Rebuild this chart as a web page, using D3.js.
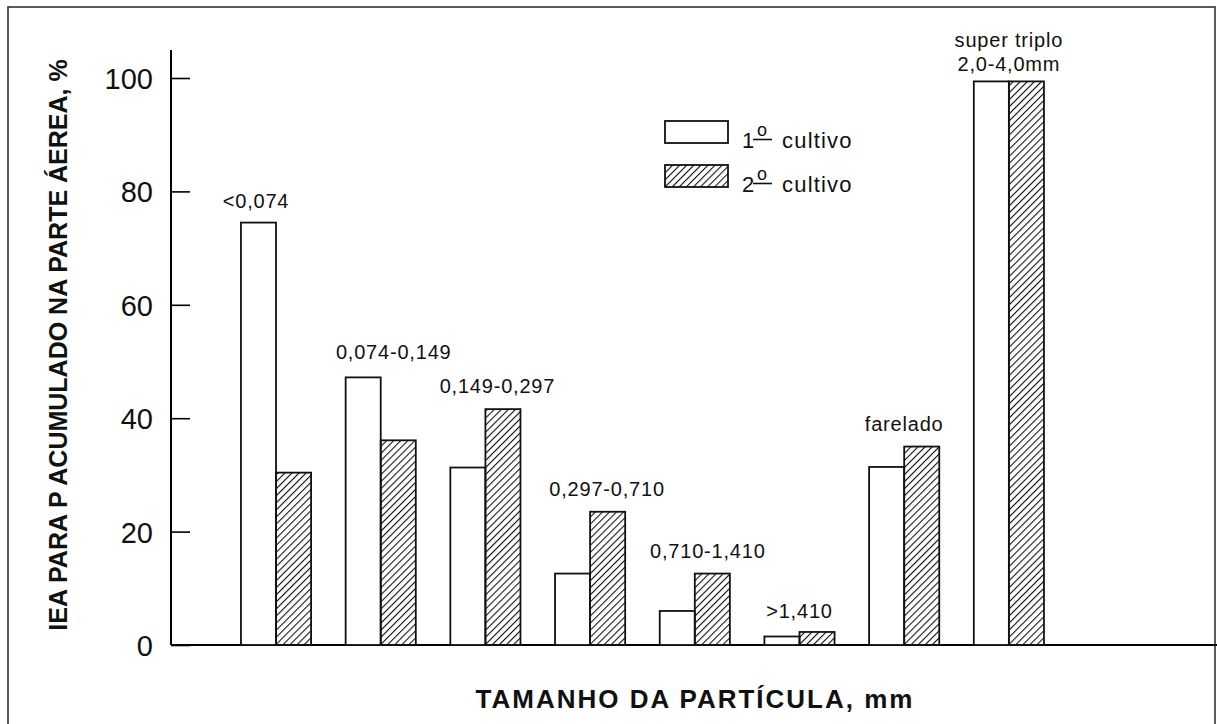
<!DOCTYPE html>
<html>
<head>
<meta charset="utf-8">
<script src="https://cdn.jsdelivr.net/npm/d3@7"></script>
<style>
  html, body { margin: 0; padding: 0; background: #fff; }
  svg { display: block; font-family: 'Liberation Sans', Arial, sans-serif; }
</style>
</head>
<body>
<div id="chart"></div>
<script>
// --- data ---
const categories = ['<0,074', '0,074-0,149', '0,149-0,297', '0,297-0,710', '0,710-1,410', '>1,410', 'farelado', 'super triplo'];
const series = ['1', '2'];
const cultivo1 = [74.5, 47.2, 31.3, 12.6, 6.0, 1.5, 31.4, 99.4];
const cultivo2 = [30.4, 36.1, 41.6, 23.5, 12.6, 2.3, 35.0, 99.4];
const yTicks = [0, 20, 40, 60, 80, 100];
// label text above each group (super triplo has two lines)
const groupLabels = [['<0,074'], ['0,074-0,149'], ['0,149-0,297'], ['0,297-0,710'], ['0,710-1,410'], ['>1,410'], ['farelado'], ['super triplo', '2,0-4,0mm']];
// small hand tweaks: horizontal shift and gap above the taller bar
const labelShift = [-20, 13, 12, 17, 13, 0, 0, 0];
const labelGap = [15, 18, 16, 16, 16, 14, 16, 10];

const W = 1217, H = 724;
const svg = d3.select('#chart').append('svg').attr('width', W).attr('height', H);

// hatch pattern
const defs = svg.append('defs');
defs.append('pattern')
    .attr('id', 'hatch')
    .attr('patternUnits', 'userSpaceOnUse')
    .attr('width', 5).attr('height', 5)
    .attr('patternTransform', 'rotate(45)')
  .append('line')
    .attr('x1', 0).attr('y1', 0).attr('x2', 0).attr('y2', 5)
    .attr('stroke', '#111').attr('stroke-width', 2.2);

// frame
svg.append('rect')
    .attr('x', 8).attr('y', 7).attr('width', 1207).attr('height', 730)
    .attr('fill', 'none').attr('stroke', '#333').attr('stroke-width', 1.6);

// --- scales ---
const y = d3.scaleLinear().domain([0, 100]).range([645, 78]);
const x = d3.scaleBand().domain(categories).range([206.4, 1078.5]).paddingInner(0.33).paddingOuter(0.33);
const xs = d3.scaleBand().domain(series).range([0, x.bandwidth()]);

// y axis
const axisX = 171;
svg.append('line')
    .attr('x1', axisX).attr('x2', axisX).attr('y1', 50).attr('y2', y(0))
    .attr('stroke', '#000').attr('stroke-width', 2);
const yAxis = svg.append('g').attr('transform', `translate(${axisX},0)`)
    .call(d3.axisRight(y).tickValues(yTicks).tickSize(19).tickFormat(d => d));
yAxis.select('.domain').remove();
yAxis.selectAll('.tick line').attr('stroke', '#000').attr('stroke-width', 1.6);
yAxis.selectAll('.tick text')
    .attr('x', -18).attr('text-anchor', 'end').attr('dy', '0.36em')
    .attr('font-size', 29).attr('fill', '#111')
    .attr('font-family', "'Liberation Sans', Arial, sans-serif");

// baseline
svg.append('line')
    .attr('x1', axisX).attr('x2', W).attr('y1', y(0)).attr('y2', y(0))
    .attr('stroke', '#000').attr('stroke-width', 2);

// bars
const rows = categories.map((c, i) => ({ cat: c, vals: [cultivo1[i], cultivo2[i]] }));
const groups = svg.append('g').selectAll('g')
    .data(rows).join('g')
    .attr('transform', d => `translate(${x(d.cat)},0)`);

groups.selectAll('rect')
    .data(d => d.vals.map((v, k) => ({ s: series[k], v })))
    .join('rect')
    .attr('x', d => xs(d.s))
    .attr('y', d => y(d.v))
    .attr('width', xs.bandwidth())
    .attr('height', d => y(0) - y(d.v))
    .attr('fill', d => d.s === series[0] ? '#fff' : 'url(#hatch)')
    .attr('stroke', '#111').attr('stroke-width', 1.8);

// group labels
svg.append('g').selectAll('text')
    .data(rows).join('text')
    .attr('text-anchor', 'middle')
    .attr('font-size', 20).attr('fill', '#111')
    .attr('letter-spacing', 0.8)
    .attr('y', (d, i) => y(Math.max(...d.vals)) - labelGap[i] - (groupLabels[i].length - 1) * 24)
    .each(function (d, i) {
        const t = d3.select(this);
        groupLabels[i].forEach((line, j) => {
            t.append('tspan')
                .attr('x', x(d.cat) + x.bandwidth() / 2 + labelShift[i])
                .attr('dy', j === 0 ? 0 : 24)
                .text(line);
        });
    });

// legend
const legend = svg.append('g').attr('transform', 'translate(665,121)');
series.forEach((s, k) => {
    const g = legend.append('g').attr('transform', `translate(0,${k * 44})`);
    g.append('rect')
        .attr('width', 63).attr('height', 22)
        .attr('fill', k === 0 ? '#fff' : 'url(#hatch)')
        .attr('stroke', '#111').attr('stroke-width', 1.8);
    g.append('text')
        .attr('x', 77).attr('y', 27)
        .attr('font-size', 22).attr('fill', '#111')
        .text(s);
    // ordinal "o" raised and underlined
    g.append('text')
        .attr('x', 97).attr('y', 15)
        .attr('text-anchor', 'middle')
        .attr('font-size', 18).attr('fill', '#111')
        .text('o');
    g.append('line')
        .attr('x1', 88).attr('x2', 107).attr('y1', 18.5).attr('y2', 18.5)
        .attr('stroke', '#111').attr('stroke-width', 1.6);
    g.append('text')
        .attr('x', 117).attr('y', 27)
        .attr('font-size', 22).attr('fill', '#111')
        .attr('letter-spacing', 1.2)
        .text('cultivo');
});

// axis titles
svg.append('text')
    .attr('transform', `translate(67,345) rotate(-90)`)
    .attr('text-anchor', 'middle')
    .attr('font-size', 25).attr('font-weight', 'bold').attr('fill', '#111')
    .text('IEA PARA P ACUMULADO NA PARTE ÁEREA, %');

svg.append('text')
    .attr('x', 695).attr('y', 708)
    .attr('text-anchor', 'middle')
    .attr('font-size', 26).attr('font-weight', 'bold').attr('fill', '#111')
    .attr('letter-spacing', 2)
    .text('TAMANHO DA PARTÍCULA, mm');
</script>
</body>
</html>
